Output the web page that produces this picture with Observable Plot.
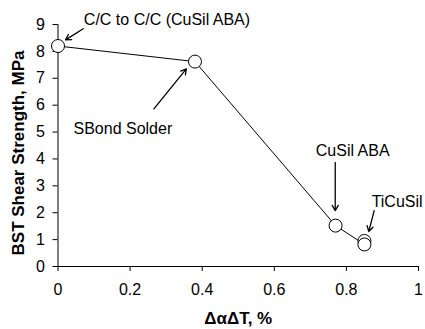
<!DOCTYPE html>
<html>
<head>
<meta charset="utf-8">
<script src="https://cdn.jsdelivr.net/npm/d3@7"></script>
<script src="https://cdn.jsdelivr.net/npm/@observablehq/plot@0.6"></script>
<style>
  html, body { margin: 0; padding: 0; background: #fff; }
  #chart { width: 425px; height: 329px; }
  #chart svg { overflow: visible; }
</style>
</head>
<body>
<div id="chart"></div>
<script>
// Data points (ΔαΔT %, BST shear strength MPa)
const xVals = [0, 0.38, 0.77, 0.85, 0.85];
const yVals = [8.2, 7.62, 1.52, 0.95, 0.82];
// line connects these points in order
const lineIdx = [0, 1, 2, 4];

const xTicks = [0, 0.2, 0.4, 0.6, 0.8, 1];
const yTicks = [0, 1, 2, 3, 4, 5, 6, 7, 8, 9];

// Annotation labels
const annText = ["C/C to C/C (CuSil ABA)", "SBond Solder", "CuSil ABA", "TiCuSil"];
const annX = [0.0717, 0.043, 0.715, 0.87];
const annY = [9.16, 5.13, 4.31, 2.42];

// Annotation arrows
const arrX1 = [0.07, 0.266, 0.769, 0.877];
const arrY1 = [8.84, 5.86, 3.87, 2.08];
const arrX2 = [0.021, 0.356, 0.769, 0.862];
const arrY2 = [8.43, 7.35, 2.08, 1.30];

const pts = xVals.map((x, i) => ({x, y: yVals[i]}));
const linePts = lineIdx.map(i => pts[i]);
const anns = annText.map((t, i) => ({t, x: annX[i], y: annY[i]}));
const arrs = arrX1.map((x1, i) => ({x1, y1: arrY1[i], x2: arrX2[i], y2: arrY2[i]}));

const chart = Plot.plot({
  width: 425,
  height: 329,
  marginLeft: 57.5,
  marginRight: 7,
  marginTop: 24,
  marginBottom: 63,
  style: {fontFamily: "'Liberation Sans', Arial, sans-serif", fontSize: "16px", color: "#000", background: "#fff", overflow: "visible"},
  x: {domain: [0, 1]},
  y: {domain: [0, 9]},
  marks: [
    Plot.axisX({ticks: xTicks, tickSize: 5, tickPadding: 12, tickFormat: d => String(d), label: null, fontSize: 16}),
    Plot.axisY({ticks: yTicks, tickSize: 5, tickPadding: 8, tickFormat: d => String(d), label: null, fontSize: 16}),
    Plot.ruleX([0], {stroke: "#000", strokeWidth: 1}),
    Plot.ruleY([0], {stroke: "#000", strokeWidth: 1}),
    Plot.text(["ΔαΔT, %"], {frameAnchor: "bottom", lineAnchor: "middle", dy: 52, fontWeight: "bold", fontSize: 17}),
    Plot.text(["BST Shear Strength, MPa"], {frameAnchor: "left", textAnchor: "middle", lineAnchor: "middle", rotate: -90, dx: -39, dy: 7.5, fontWeight: "bold", fontSize: 17}),
    Plot.line(linePts, {x: "x", y: "y", stroke: "#000", strokeWidth: 1}),
    Plot.dot(pts, {x: "x", y: "y", r: 6.5, fill: "#fff", stroke: "#000", strokeWidth: 1}),
    Plot.arrow(arrs, {x1: "x1", y1: "y1", x2: "x2", y2: "y2", stroke: "#000", strokeWidth: 1.3, headLength: 7}),
    Plot.text(anns, {x: "x", y: "y", text: "t", textAnchor: "start", fontSize: 16, fill: "#000"})
  ]
});
document.getElementById("chart").appendChild(chart);
</script>
</body>
</html>
